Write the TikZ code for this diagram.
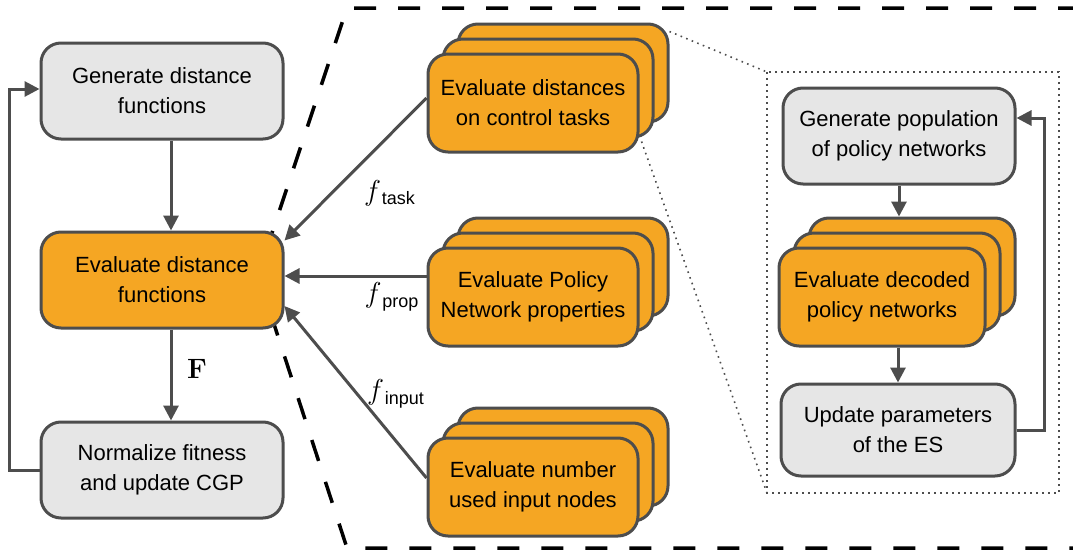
\documentclass[tikz,border=0pt]{standalone}
\usepackage{fontspec}
\setmainfont{Liberation Sans}
\newfontfamily\lmfont{Latin Modern Roman}
\usetikzlibrary{arrows.meta,shadows}
\definecolor{boxorange}{HTML}{F5A623}
\definecolor{boxgray}{HTML}{E6E6E6}
\definecolor{edgegray}{HTML}{4D4D4D}

\begin{document}
\begin{tikzpicture}[x=0.5pt,y=-0.5pt,
	box/.style={draw=edgegray,line width=1.5pt,rounded corners=10pt,align=center,
		inner sep=2pt,font=\fontsize{11}{15}\selectfont},
	graybox/.style={box,fill=boxgray},
	orangebox/.style={box,fill=boxorange},
	stackbox/.style={orangebox,double copy shadow={shadow xshift=7.5pt,shadow yshift=7.5pt}},
	arr/.style={draw=edgegray,line width=1.5pt,-{Triangle[length=7.5pt,width=7.5pt]}},
	zoomline/.style={draw=edgegray,line width=0.8pt,dash pattern=on 0.8pt off 2.2pt},
	flabel/.style={font=\fontsize{15}{15}\selectfont}]
	\useasboundingbox (0,0) rectangle (1073,552);

	\draw[line width=1.75pt,dash pattern=on 11pt off 11pt]
		(1080,8) -- (347,8) -- (258,275) -- (347,548) -- (1080,548);

	\draw[zoomline] (767,72) coordinate (zoomtl) rectangle (1059,493);
	\coordinate (zoombl) at (767,493);

	\node[graybox,minimum width=121pt,minimum height=48pt] (gendist) at (162,91) {Generate distance\\functions};
	\node[orangebox,minimum width=121pt,minimum height=48pt] (evaldist) at (162,280) {Evaluate distance\\functions};
	\node[graybox,minimum width=121pt,minimum height=48pt] (normfit) at (162,470) {Normalize fitness\\and update CGP};

	\node[stackbox,minimum width=105pt,minimum height=49pt] (task) at (533,103) {Evaluate distances\\on control tasks};
	\node[stackbox,minimum width=105pt,minimum height=49pt] (prop) at (533,297) {Evaluate Policy\\Network properties};
	\node[stackbox,minimum width=105pt,minimum height=49pt] (input) at (533,487) {Evaluate number\\used input nodes};

	\node[graybox,minimum width=116pt,minimum height=48pt] (genpop) at (899,136) {Generate population\\of policy networks};
	\node[stackbox,minimum width=103pt,minimum height=49pt] (evaldec) at (882,297) {Evaluate decoded\\policy networks};
	\node[graybox,minimum width=117pt,minimum height=46pt] (updes) at (898,430) {Update parameters\\of the ES};

	\draw[zoomline] ([shift={(30,-21)}]task.north east) -- (zoomtl);
	\draw[zoomline] ([shift={(2,-12)}]task.south east) -- (zoombl);

	\draw[arr] ([xshift=4.5pt]gendist.south) -- ([xshift=4.5pt]evaldist.north);
	\draw[arr] ([xshift=4.5pt]evaldist.south) -- node[right=4pt,yshift=3pt,font=\fontsize{14}{14}\selectfont\lmfont\bfseries] {F} ([xshift=4.5pt]normfit.north);
	\draw[arr] (normfit.west) -- ++(-30,0) |- ([yshift=1pt]gendist.west);

	\draw[arr] ([yshift=2.5pt]task.west) -- ([yshift=-5pt]evaldist.north east);
	\draw[arr] ([yshift=10.5pt]prop.west) -- ([yshift=2pt]evaldist.east);
	\draw[arr] ([yshift=4.5pt]input.west) -- ([yshift=-13pt]evaldist.east);
	\node[flabel] (ftask) at (390,193) {$f_{\,\mbox{\fontsize{9}{9}\selectfont task}}$};
	\node[flabel] (fprop) at (392,297) {$f_{\,\mbox{\fontsize{9}{9}\selectfont prop}}$};
	\node[flabel] (finput) at (396,394) {$f_{\,\mbox{\fontsize{9}{9}\selectfont input}}$};

	\draw[arr] (genpop.south) -- ([yshift=15pt]genpop.south |- evaldec.north);
	\draw[arr] (updes.north |- evaldec.south) -- (updes.north);
	\draw[arr] (updes.east) -- ++(28,0) |- ([yshift=9pt]genpop.east);
\end{tikzpicture}
\end{document}
